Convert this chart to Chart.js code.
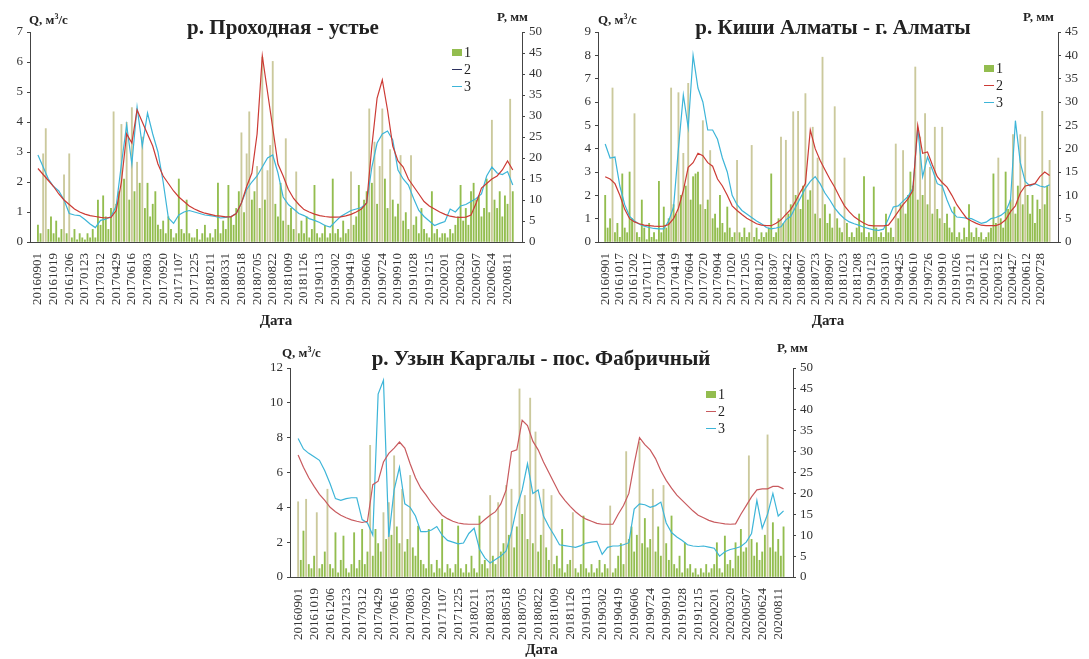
<!DOCTYPE html>
<html>
<head>
<meta charset="utf-8">
<script src="https://cdn.jsdelivr.net/npm/chart.js@4.4.0/dist/chart.umd.min.js"></script>
<style>
body { margin: 0; background: #fff; }
#page { position: relative; width: 1089px; height: 659px; font-family: 'Liberation Serif', serif; color: #222; overflow: hidden; }
canvas { position: absolute; }
.title { position: absolute; font-weight: bold; font-size: 21px; line-height: 24px; white-space: nowrap; transform: translateX(-50%); }
.unit { position: absolute; font-weight: bold; font-size: 13px; line-height: 15px; white-space: nowrap; }
.legend { position: absolute; font-size: 14px; line-height: 17px; }
.legend div { display: flex; align-items: center; }
.sq { display: inline-block; width: 10px; height: 7px; margin-right: 2px; background: #93bd4f; }
.ln { display: inline-block; width: 10px; height: 1.5px; margin-right: 2px; }
</style>
</head>
<body>
<div id="page">
  <canvas id="c1" width="545" height="330" style="left:0;top:0"></canvas>
  <canvas id="c2" width="544" height="330" style="left:545px;top:0"></canvas>
  <canvas id="c3" width="600" height="324" style="left:240px;top:335px"></canvas>

  <div class="title" style="left:283px;top:15px">р. Проходная - устье</div>
  <div class="unit" style="left:29px;top:9px">Q, м<sup style="font-size:8px">3</sup>/с</div>
  <div class="unit" style="left:497px;top:9px">P, мм</div>
  <div class="legend" style="left:452px;top:44px">
    <div><span class="sq"></span>1</div>
    <div><span class="ln" style="background:#2d3160"></span>2</div>
    <div><span class="ln" style="background:#3db5d8"></span>3</div>
  </div>

  <div class="title" style="left:833px;top:15px">р. Киши Алматы - г. Алматы</div>
  <div class="unit" style="left:598px;top:9px">Q, м<sup style="font-size:8px">3</sup>/с</div>
  <div class="unit" style="left:1023px;top:9px">P, мм</div>
  <div class="legend" style="left:984px;top:60px">
    <div><span class="sq"></span>1</div>
    <div><span class="ln" style="background:#cc3b35"></span>2</div>
    <div><span class="ln" style="background:#3db5d8"></span>3</div>
  </div>

  <div class="title" style="left:541px;top:346px">р. Узын Каргалы - пос. Фабричный</div>
  <div class="unit" style="left:282px;top:342px">Q, м<sup style="font-size:8px">3</sup>/с</div>
  <div class="unit" style="left:777px;top:340px">P, мм</div>
  <div class="legend" style="left:706px;top:386px">
    <div><span class="sq"></span>1</div>
    <div><span class="ln" style="background:#c85a5e"></span>2</div>
    <div><span class="ln" style="background:#3db5d8"></span>3</div>
  </div>
</div>
<script>
const lineStep = 16
const barStep = 8

const ticks48 = ['20160901', '20161019', '20161206', '20170123', '20170312', '20170429', '20170616', '20170803',
    '20170920', '20171107', '20171225', '20180211', '20180331', '20180518', '20180705', '20180822', '20181009',
    '20181126', '20190113', '20190302', '20190419', '20190606', '20190724', '20190910', '20191028', '20191215',
    '20200201', '20200320', '20200507', '20200624', '20200811']
const ticks46 = ['20160901', '20161017', '20161202', '20170117', '20170304', '20170419', '20170604', '20170720',
    '20170904', '20171020', '20171205', '20180120', '20180307', '20180422', '20180607', '20180723', '20180907',
    '20181023', '20181208', '20190123', '20190310', '20190425', '20190610', '20190726', '20190910', '20191026',
    '20191211', '20200126', '20200312', '20200427', '20200612', '20200728']

// р. Проходная - устье
const prokhodnayaQ2 = [
    2.45, 2.25, 2.05, 1.85, 1.6, 1.4, 1.25, 1.1, 1.0, 0.93, 0.88, 0.85,
    0.82, 0.8, 0.82, 1.05, 2.0, 3.6, 3.3, 4.4, 4.0, 3.6, 3.2, 2.6,
    2.2, 1.95, 1.7, 1.5, 1.35, 1.2, 1.1, 1.02, 0.96, 0.92, 0.88, 0.86,
    0.84, 0.84, 0.95, 1.3, 1.85, 2.3, 3.6, 6.2, 5.0, 3.8, 2.6, 2.2,
    1.75, 1.45, 1.25, 1.08, 1.0, 0.93, 0.88, 0.85, 0.83, 0.83, 0.84, 0.87,
    0.92, 1.0, 1.1, 1.3, 3.2, 4.8, 5.4, 4.4, 3.2, 2.7, 2.5, 2.1,
    1.85, 1.6, 1.35, 1.2, 1.1, 1.0, 0.92, 0.86, 0.83, 0.82, 0.83, 0.9,
    1.3, 1.8, 1.95, 2.1, 2.2, 2.4, 2.7, 2.4]
const prokhodnayaQ3 = [
    2.9, 2.5, 2.1, 1.85, 1.7, 1.4, 0.95, 0.9, 0.88, 0.75, 0.6, 0.48,
    0.72, 0.76, 0.85, 1.2, 2.6, 3.9, 2.6, 4.5, 3.2, 4.3, 3.6, 3.0,
    2.0, 0.8, 0.62, 0.9, 1.0, 1.05, 1.0, 0.95, 0.9, 0.88, 0.85, 0.8,
    0.82, 0.85, 0.95, 1.3, 1.75, 2.0, 2.2, 2.5, 2.8, 2.9, 2.3, 1.5,
    1.25, 1.1, 0.95, 0.88, 0.78, 0.72, 0.65, 0.55, 0.5, 0.68, 0.85, 0.95,
    1.05, 1.1, 1.15, 1.3, 2.5, 3.3, 3.6, 3.7, 3.4, 2.4, 2.1, 1.9,
    1.45, 1.05, 0.85, 0.7, 0.55, 0.62, 0.68, 1.1, 1.0, 1.2, 1.25, 1.35,
    1.45, 1.6, 2.2, 2.5, 2.3, 2.25, 2.35, 1.9]
const prokhodnayaP = [
    4, 2, 21, 27, 3, 6, 2, 5, 1, 3, 16, 2, 21, 1, 3, 0.5, 2, 1,
    0.5, 2, 1, 3, 1, 10, 4, 11, 6, 3, 8, 31, 9, 12, 28, 15, 28.5, 10,
    32, 12, 19, 14, 25, 8, 14, 6, 9, 12, 4, 3, 5, 2, 6, 3, 1, 2,
    15, 3, 2, 10, 2, 1, 1, 3, 0.5, 2, 4, 1, 2, 1, 3, 14, 2, 5,
    3, 13.5, 6, 4, 8, 12, 26, 7, 21, 31, 10, 12, 18, 8, 44, 10, 17, 23,
    43, 9, 6, 14, 5, 24.6, 4, 8, 3, 16.7, 2, 5, 2, 6, 1, 3, 13.5, 2,
    1, 2, 4, 1, 2, 15, 2, 3, 1, 5, 2, 3, 16.7, 4, 6, 13.5, 8, 10,
    12, 31.7, 14, 23.8, 9, 18, 31.7, 15, 8, 22, 10, 6, 9, 20.6, 5, 7, 3, 20.6,
    4, 6, 2, 8, 3, 2, 1, 12, 2, 3, 1, 2, 2, 1, 3, 2, 4, 6,
    13.5, 5, 8, 4, 12, 14, 10, 11, 6, 8, 15, 7, 29, 10, 8, 12, 6, 11,
    9, 34, 12]

// р. Киши Алматы - г. Алматы
const kishiQ2 = [
    2.8, 2.7, 2.5, 2.0, 1.4, 1.0, 0.86, 0.78, 0.72, 0.7, 0.68, 0.67,
    0.68, 0.75, 1.0, 1.45, 2.2, 3.2, 3.4, 3.8, 3.7, 3.4, 3.25, 2.7,
    2.4, 2.0, 1.55, 1.35, 1.18, 1.02, 0.9, 0.78, 0.72, 0.7, 0.7, 0.8,
    0.95, 1.18, 1.4, 1.75, 2.15, 2.5, 4.8, 4.0, 3.5, 3.1, 2.7, 2.35,
    1.93, 1.55, 1.29, 1.08, 0.93, 0.8, 0.71, 0.69, 0.69, 0.69, 0.72, 1.0,
    1.3, 1.6, 1.85, 2.2, 5.0, 3.8, 3.86, 3.3, 2.8, 2.55, 2.35, 2.0,
    1.6, 1.3, 1.02, 0.9, 0.8, 0.72, 0.7, 0.7, 0.7, 0.78, 0.95, 1.3,
    1.55, 2.1, 2.4, 2.45, 2.5, 2.8, 3.0, 2.85]
const kishiQ3 = [
    4.2, 3.6, 3.64, 2.4, 1.6, 1.1, 0.9, 0.76, 0.68, 0.62, 0.58, 0.56,
    0.56, 0.9, 1.5, 4.0, 6.3, 4.9, 8.0, 6.6, 6.0, 4.8, 4.8, 4.4,
    3.6, 3.0, 2.0, 1.6, 1.35, 1.2, 1.05, 0.9, 0.78, 0.62, 0.56, 0.6,
    0.65, 0.95, 1.1, 1.5, 1.9, 2.3, 2.6, 2.8, 2.5, 2.1, 1.8, 1.45,
    1.2, 1.0, 0.86, 0.78, 0.71, 0.63, 0.57, 0.52, 0.5, 0.55, 1.0, 1.5,
    1.55, 1.75, 1.95, 2.3, 4.9, 2.8, 3.64, 3.1, 2.5, 2.4, 1.8, 1.3,
    1.07, 1.05, 1.02, 1.0, 0.9, 0.8, 0.85, 1.0, 1.05, 1.14, 1.3, 1.8,
    5.2, 3.4, 2.6, 2.4, 2.5, 2.4, 2.35, 2.45]
const kishiP = [
    10, 3, 5, 33, 2, 4, 1, 14.6, 3, 2, 15, 5, 27.5, 2, 1, 9, 3, 0.5,
    4, 1, 2, 0.5, 13, 2, 7.5, 3, 5, 33, 8, 6, 32, 10, 19, 12, 34, 9,
    14, 14.6, 15, 8, 26, 7, 9, 19.6, 5, 6, 3, 10, 4, 2, 7.5, 3, 1, 2,
    17.5, 2, 1, 3, 1, 2, 20.7, 1, 3, 0.5, 2, 1, 2, 3, 14.6, 1, 2, 5,
    22.5, 4, 21.8, 6, 8, 27.9, 10, 28, 7, 12, 31.8, 9, 11, 24.6, 6, 18, 5, 39.6,
    8, 4, 6, 3, 29, 5, 3, 2, 18, 4, 1, 2, 1, 3, 6, 2, 14, 1,
    2, 1, 11.8, 3, 1, 2, 1, 6, 2, 3, 1, 21, 5, 8, 19.6, 6, 10, 15,
    12, 37.5, 9, 22.5, 10, 27.5, 8, 16, 6, 24.6, 7, 5, 24.6, 4, 6, 3, 2, 7.5,
    1, 2, 0.5, 3, 1, 8, 2, 1, 3, 1, 2, 0.5, 1, 2, 3, 14.6, 4, 18,
    5, 3, 15, 7, 9, 23, 6, 12, 23, 8, 22.5, 10, 6, 10, 4, 9, 7, 28,
    8, 12, 17.5]

// р. Узын Каргалы - пос. Фабричный
const uzynQ2 = [
    7.0, 6.3, 5.7, 5.2, 4.75, 4.4, 4.0, 3.75, 3.55, 3.4, 3.28, 3.2,
    3.13, 3.2, 5.3, 5.5, 6.6, 7.1, 7.4, 7.75, 7.4, 6.5, 5.7, 5.1,
    4.7, 4.25, 3.9, 3.55, 3.35, 3.2, 3.1, 3.05, 3.03, 3.03, 3.03, 3.3,
    3.55, 3.75, 4.2, 5.0, 7.2, 7.3, 9.0, 8.7, 7.8, 7.3, 6.6, 6.0,
    5.4, 4.8, 4.4, 4.05, 3.75, 3.5, 3.32, 3.2, 3.08, 3.03, 3.03, 3.03,
    3.6, 4.1, 4.8, 6.5, 8.0, 7.6, 7.3, 6.8, 6.1, 5.55, 5.1, 4.7,
    4.4, 4.1, 3.8, 3.55, 3.4, 3.25, 3.15, 3.1, 3.05, 3.03, 3.05, 3.6,
    4.1, 4.6, 5.0, 5.06, 5.06, 5.2, 5.2, 5.06]
const uzynQ3 = [
    7.95, 7.35, 7.1, 6.9, 6.7, 6.1, 5.35, 4.5, 4.4, 4.5, 4.55, 4.55,
    3.3, 3.1, 2.4, 10.5, 11.3, 2.3, 5.0, 6.3, 4.2, 4.0, 3.5, 2.6,
    2.6, 2.7, 2.9, 2.4, 2.1, 2.0, 1.9, 1.95, 2.5, 2.8, 1.6, 1.1,
    0.8, 1.0, 1.2, 1.5, 2.6, 4.0, 5.0, 6.5, 4.8, 5.0, 3.5, 2.9,
    2.4, 1.85, 1.8, 1.75, 1.7, 1.8, 1.95, 2.0, 2.05, 1.3, 1.7, 1.78,
    1.78, 1.85, 1.97, 3.9, 4.2, 4.15, 4.0, 4.1, 4.3, 3.1, 2.55, 2.3,
    2.1, 1.85, 1.78, 1.75, 1.78, 1.72, 1.65, 1.2, 1.45, 1.58, 1.65, 1.75,
    2.0, 2.5, 4.4, 2.8, 3.6, 4.8, 3.5, 3.8]
const uzynP = [
    18, 4, 11, 18.6, 3, 2, 5, 15.4, 2, 3, 6, 21, 3, 2, 10.6, 1, 4, 9.8,
    2, 1, 3, 10.6, 2, 4, 11.4, 3, 6, 31.5, 5, 11.4, 8, 6, 15.4, 9, 17.8, 10,
    29, 12, 8, 21, 6, 9, 24.3, 7, 5, 12.2, 4, 3, 2, 11.4, 3, 1, 4, 2,
    13.8, 1, 3, 2, 1, 3, 12.2, 2, 1, 3, 1, 5, 2, 1, 14.6, 3, 4, 2,
    19.5, 5, 3, 17.8, 6, 8, 21.9, 10, 21, 7, 12, 45, 15, 19.5, 9, 42.8, 8, 34.7,
    6, 10, 21, 7, 4, 19.5, 3, 5, 2, 11.4, 1, 3, 4, 15.4, 2, 1, 3, 14.6,
    2, 1, 3, 1, 2, 4, 1, 3, 2, 17, 1, 2, 5, 8, 3, 30, 9, 12,
    6, 10, 32.3, 8, 14, 7, 9, 21, 6, 12, 5, 21.9, 8, 4, 14.6, 3, 2, 5,
    1, 8.2, 2, 3, 1, 2, 0.5, 2, 1, 3, 1, 2, 3, 8.2, 2, 1, 9.8, 3,
    4, 2, 8.2, 5, 11.4, 6, 7, 29, 9, 5, 8.2, 4, 6, 10, 34, 7, 13, 6,
    9, 5, 12]

const cyan = '#3db5d8'
Chart.defaults.font.family = "'Liberation Serif', serif"
Chart.defaults.font.size = 13
Chart.defaults.color = '#333'

function dayOf(s) {
    const t = Date.UTC(+s.slice(0, 4), +s.slice(4, 6) - 1, +s.slice(6, 8))
    return Math.round((t - Date.UTC(2016, 8, 1)) / 86400000)
}

function series(values, step) {
    return values.map((v, i) => ({ x: i * step, y: v }))
}

function barColor(ctx) {
    // thin tall bars look washed out in the original
    return ctx.raw && ctx.raw.y > 15 ? '#cbc99c' : '#93bd4f'
}

function makeChart(id, cfg) {
    const tickDays = cfg.ticks.map(dayOf)
    new Chart(document.getElementById(id), {
        type: 'bar',
        data: {
            datasets: [
                { type: 'line', label: '2', data: series(cfg.q2, lineStep), yAxisID: 'y',
                  borderColor: cfg.red, borderWidth: 1.2, pointRadius: 0, tension: 0 },
                { type: 'line', label: '3', data: series(cfg.q3, lineStep), yAxisID: 'y',
                  borderColor: cyan, borderWidth: 1.2, pointRadius: 0, tension: 0 },
                { type: 'bar', label: '1', data: series(cfg.p, barStep), yAxisID: 'y1',
                  backgroundColor: barColor, barThickness: 1.2, grouped: false }
            ]
        },
        options: {
            responsive: false,
            animation: false,
            devicePixelRatio: 1,
            layout: { padding: { top: cfg.top, left: 0, right: 0, bottom: 0 } },
            plugins: { legend: { display: false }, tooltip: { enabled: false } },
            scales: {
                x: {
                    type: 'linear', min: 0, max: 1460,
                    grid: { display: false },
                    border: { display: true, color: '#444' },
                    afterBuildTicks: s => { s.ticks = tickDays.map(v => ({ value: v })) },
                    afterFit: s => { s.height = cfg.xHeight },
                    ticks: {
                        autoSkip: false, maxRotation: 90, minRotation: 90, padding: 3,
                        font: { size: 13 },
                        callback: (v, i) => cfg.ticks[i]
                    },
                    title: { display: true, text: 'Дата', color: '#222', font: { size: 15, weight: 'bold' }, padding: 0 }
                },
                y: {
                    position: 'left', min: 0, max: cfg.qMax,
                    ticks: { stepSize: cfg.qStep, padding: 4 },
                    grid: { drawOnChartArea: false, tickLength: 3, color: '#444' },
                    border: { display: true, color: '#444' },
                    afterFit: s => { s.width = cfg.leftW }
                },
                y1: {
                    position: 'right', min: 0, max: cfg.pMax,
                    ticks: { stepSize: 5, padding: 4 },
                    grid: { drawOnChartArea: false, tickLength: 3, color: '#444' },
                    border: { display: true, color: '#444' },
                    afterFit: s => { s.width = cfg.rightW }
                }
            }
        }
    })
}

makeChart('c1', { ticks: ticks48, q2: prokhodnayaQ2, q3: prokhodnayaQ3, p: prokhodnayaP, red: '#cc3b35',
    qMax: 7, qStep: 1, pMax: 50, top: 32, xHeight: 88, leftW: 30, rightW: 23 })
makeChart('c2', { ticks: ticks46, q2: kishiQ2, q3: kishiQ3, p: kishiP, red: '#cc3b35',
    qMax: 9, qStep: 1, pMax: 45, top: 32, xHeight: 88, leftW: 53, rightW: 31 })
makeChart('c3', { ticks: ticks48, q2: uzynQ2, q3: uzynQ3, p: uzynP, red: '#c85a5e',
    qMax: 12, qStep: 2, pMax: 50, top: 33, xHeight: 82, leftW: 50, rightW: 47 })
</script>
</body>
</html>
